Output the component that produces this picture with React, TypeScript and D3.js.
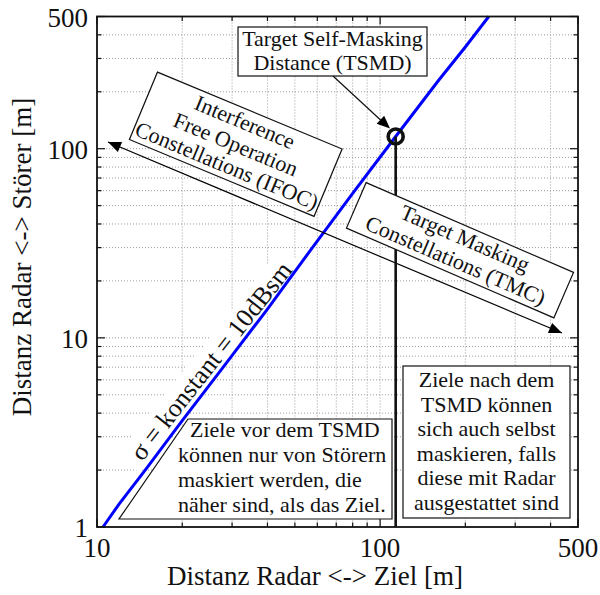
import React from "react";
import * as d3 from "d3";

// ---- data ----
const xMajorTicks = [10, 100, 500];
const yMajorTicks = [1, 10, 100, 500];
const xGridValues = [20, 30, 40, 50, 60, 70, 80, 90, 100, 200, 300, 400];
const yGridValues = [2, 3, 4, 5, 6, 7, 8, 9, 10, 20, 30, 40, 50, 60, 70, 80, 90, 100, 200, 300, 400];
const xMinorTicks = [20, 30, 40, 50, 60, 70, 80, 90, 200, 300, 400];
const yMinorTicks = [2, 3, 4, 5, 6, 7, 8, 9, 20, 30, 40, 50, 60, 70, 80, 90, 200, 300, 400];
const lineX = [10.5, 12, 14.8, 20, 27.7, 40, 56.8, 80, 113.5, 161, 200, 242];
const lineY = [1, 1.33, 2, 3.65, 6.9, 14.2, 29.1, 58, 116, 230, 345, 500];
const tsmdX = 113.5;
const tsmdY = 116;

const W = 600;
const H = 595;
const L = 97, R = 578, T = 16.5, B = 527;
const FONT = "'Liberation Serif', 'Times New Roman', serif";

function arrowHead(tx: number, ty: number, fx: number, fy: number, len = 13, hw = 5.5) {
  const a = Math.atan2(ty - fy, tx - fx);
  const bx = tx - len * Math.cos(a), by = ty - len * Math.sin(a);
  const px = -Math.sin(a) * hw, py = Math.cos(a) * hw;
  return `${tx},${ty} ${bx + px},${by + py} ${bx - px},${by - py}`;
}

export default function App() {
  const x = d3.scaleLog().domain([10, 500]).range([L, R]);
  const y = d3.scaleLog().domain([1, 500]).range([B, T]);
  const line = d3.line<number>().x((_, i) => x(lineX[i])).y((d) => y(d));
  const path = line(lineY) || "";

  const cx = x(tsmdX), cy = y(tsmdY);

  // IFOC box
  const ifoc = { cx: 235.75, cy: 144.25, w: 200, h: 73, a: 22.6 };
  const tmc = { cx: 460, cy: 250.25, w: 226, h: 49.5, a: 23.4 };
  const sig = { cx: 211, cy: 361, a: -51.8 };

  const majorLen = 8, minorLen = 4.5;

  return (
    <svg width={W} height={H} style={{ position: "absolute", left: 0, top: 0, background: "#fff" }} fontFamily={FONT}>
      <rect x={0} y={0} width={W} height={H} fill="#fff" />
      {/* grid */}
      <g stroke="#9a9a9a" strokeWidth={1} strokeDasharray="1,2">
        {xGridValues.map((v) => (
          <line key={"gx" + v} x1={x(v)} x2={x(v)} y1={T} y2={B} />
        ))}
        {yGridValues.map((v) => (
          <line key={"gy" + v} x1={L} x2={R} y1={y(v)} y2={y(v)} />
        ))}
      </g>

      {/* sigma label with white background */}
      <g transform={`translate(${sig.cx},${sig.cy}) rotate(${sig.a})`}>
        <rect x={-132} y={-15} width={264} height={28} fill="#fff" />
        <text x={0} y={0} textAnchor="middle" dominantBaseline="central" fontSize={26} fill="#111">
          σ = konstant = 10dBsm
        </text>
      </g>

      {/* blue line */}
      <path d={path} fill="none" stroke="#0000ff" strokeWidth={3} />

      {/* double arrow IFOC <-> TMC */}
      <line x1={108} y1={142} x2={562} y2={333} stroke="#000" strokeWidth={1.2} />
      <polygon points={arrowHead(108, 142, 562, 333)} fill="#000" />
      <polygon points={arrowHead(562, 333, 108, 142)} fill="#000" />

      {/* vertical line from TSMD */}
      <line x1={cx} x2={cx} y1={cy} y2={B} stroke="#111" strokeWidth={2.6} />

      {/* IFOC box */}
      <g transform={`translate(${ifoc.cx},${ifoc.cy}) rotate(${ifoc.a})`}>
        <rect x={-ifoc.w / 2} y={-ifoc.h / 2} width={ifoc.w} height={ifoc.h} fill="#fff" stroke="#111" strokeWidth={1.2} />
        <g fontSize={22} textAnchor="middle" dominantBaseline="central" fill="#111">
          <text x={0} y={-24}>Interference</text>
          <text x={0} y={0}>Free Operation</text>
          <text x={0} y={23}>Constellations (IFOC)</text>
        </g>
      </g>

      {/* TMC box */}
      <g transform={`translate(${tmc.cx},${tmc.cy}) rotate(${tmc.a})`}>
        <rect x={-tmc.w / 2} y={-tmc.h / 2} width={tmc.w} height={tmc.h} fill="#fff" stroke="#111" strokeWidth={1.2} />
        <g fontSize={22} textAnchor="middle" dominantBaseline="central" fill="#111">
          <text x={0} y={-13}>Target Masking</text>
          <text x={0} y={11}>Constellations (TMC)</text>
        </g>
      </g>

      {/* TSMD box */}
      <rect x={238} y={27} width={189} height={49} fill="#fff" stroke="#111" strokeWidth={1.2} />
      <g fontSize={22} textAnchor="middle" fill="#111">
        <text x={332.5} y={46}>Target Self-Masking</text>
        <text x={332.5} y={70}>Distance (TSMD)</text>
      </g>
      <line x1={333} y1={76} x2={386} y2={125} stroke="#111" strokeWidth={1.2} />
      <polygon points={arrowHead(390, 128.5, 333, 76)} fill="#000" />

      {/* TSMD circle */}
      <circle cx={cx} cy={cy} r={7.5} fill="none" stroke="#111" strokeWidth={3.6} />

      {/* left bottom box */}
      <polygon points={`188,419 392,419 392,519 119,519`} fill="#fff" stroke="#111" strokeWidth={1.2} />
      <g fontSize={22} fill="#111">
        <text x={190} y={437}>Ziele vor dem TSMD</text>
        <text x={178} y={462}>können nur von Störern</text>
        <text x={178} y={487}>maskiert werden, die</text>
        <text x={178} y={512}>näher sind, als das Ziel.</text>
      </g>

      {/* right bottom box */}
      <rect x={403} y={366} width={167} height={152} fill="#fff" stroke="#111" strokeWidth={1.2} />
      <g fontSize={22} fill="#111" textAnchor="middle">
        {["Ziele nach dem", "TSMD können", "sich auch selbst", "maskieren, falls", "diese mit Radar", "ausgestattet sind"].map((s, i) => (
          <text key={s} x={486.5} y={387 + i * 24.6}>{s}</text>
        ))}
      </g>

      {/* axes box and ticks */}
      <g stroke="#111" strokeWidth={1.2}>
        {xMajorTicks.map((v) => (
          <g key={"xt" + v}>
            <line x1={x(v)} x2={x(v)} y1={B} y2={B - majorLen} />
            <line x1={x(v)} x2={x(v)} y1={T} y2={T + majorLen} />
          </g>
        ))}
        {xMinorTicks.map((v) => (
          <g key={"xm" + v}>
            <line x1={x(v)} x2={x(v)} y1={B} y2={B - minorLen} />
            <line x1={x(v)} x2={x(v)} y1={T} y2={T + minorLen} />
          </g>
        ))}
        {yMajorTicks.map((v) => (
          <g key={"yt" + v}>
            <line x1={L} x2={L + majorLen} y1={y(v)} y2={y(v)} />
            <line x1={R} x2={R - majorLen} y1={y(v)} y2={y(v)} />
          </g>
        ))}
        {yMinorTicks.map((v) => (
          <g key={"ym" + v}>
            <line x1={L} x2={L + minorLen} y1={y(v)} y2={y(v)} />
            <line x1={R} x2={R - minorLen} y1={y(v)} y2={y(v)} />
          </g>
        ))}
      </g>
      <rect x={L} y={T} width={R - L} height={B - T} fill="none" stroke="#111" strokeWidth={1.8} />

      {/* tick labels */}
      <g fontSize={27} fill="#111">
        {xMajorTicks.map((v) => (
          <text key={"xl" + v} x={x(v)} y={557} textAnchor="middle">{v}</text>
        ))}
        {yMajorTicks.map((v) => (
          <text key={"yl" + v} x={88} y={y(v) + 10} textAnchor="end">{v}</text>
        ))}
      </g>

      {/* axis labels */}
      <text x={315} y={585} textAnchor="middle" fontSize={27} fill="#111">Distanz Radar &lt;-&gt; Ziel [m]</text>
      <text transform={`translate(31,257) rotate(-90)`} textAnchor="middle" fontSize={27} fill="#111">Distanz Radar &lt;-&gt; Störer [m]</text>
    </svg>
  );
}
